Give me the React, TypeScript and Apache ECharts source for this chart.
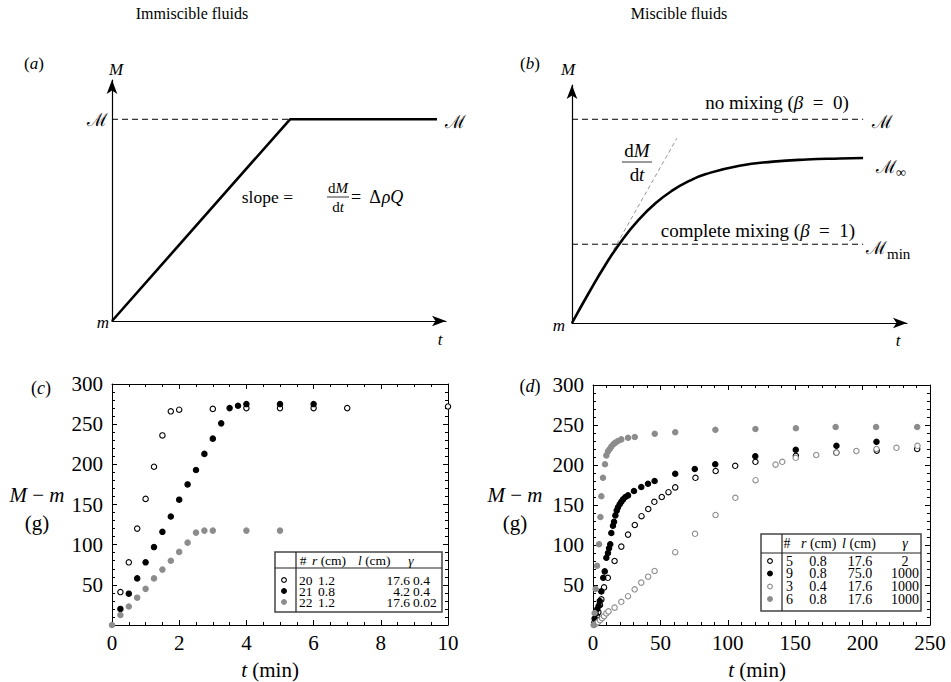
import React, { useEffect, useRef } from "react";
import * as echarts from "echarts";

const FONT = '"Liberation Serif", "DejaVu Serif", serif';
const GRAY = "#8c8c8c";

// ---------- Panel (a): schematic, immiscible ----------
const aLineX = [0, 53.3, 97.3];
const aLineY = [0, 83.7, 83.7];
const aPlateau = 83.7;

// ---------- Panel (b): schematic, miscible ----------
const bCurveX = [0, 5, 10, 15, 20, 25, 30, 35, 40, 50, 60, 70, 80, 86.9];
const bCurveY = [0, 12.6, 24.5, 34.9, 43.5, 50.4, 55.7, 59.7, 62.6, 66.1, 67.8, 68.7, 69.1, 69.3];
const bNoMixing = 85.6;
const bComplete = 33.1;
const bLineEnd = 86.9;
const bTangentX = [0, 31.3];
const bTangentY = [0, 77.6];

// ---------- Panel (c): immiscible experiments ----------
const c20T = [0.25, 0.5, 0.75, 1, 1.25, 1.5, 1.75, 2, 3, 4, 5, 6, 7, 10];
const c20M = [41, 78, 120, 157, 197, 236, 266, 268, 269, 270, 270, 270, 270, 272];
const c21T = [0.25, 0.5, 0.75, 1, 1.25, 1.5, 1.75, 2, 2.25, 2.5, 2.75, 3, 3.25, 3.5, 3.75, 4, 5, 6];
const c21M = [20, 39, 58, 78, 97, 116, 135, 156, 175, 193, 213, 232, 251, 270, 273, 275, 275, 275];
const c22T = [0, 0.25, 0.5, 0.75, 1, 1.25, 1.5, 1.75, 2, 2.25, 2.5, 2.75, 3, 4, 5];
const c22M = [0, 12.5, 23, 34, 45, 58, 69, 80, 91, 102.5, 115, 117.5, 117.5, 117.5, 117.5];
const cXTicks = [0, 10, 2];
const cYTicks = [0, 300, 50];

// ---------- Panel (d): miscible experiments ----------
const d5T = [1, 2, 3, 4, 5.2, 6.2, 8.2, 11, 16, 21, 26, 31, 36, 41, 45.5, 51, 56, 61, 76, 91, 105.5, 120.5, 150.5, 180.5, 210.5, 240.5];
const d5M = [3, 7, 12, 16, 25, 32, 47, 59, 80, 98, 113, 125, 136, 145, 154, 160, 166, 172, 184, 192.5, 199, 204, 211.5, 215.5, 218, 220];
const d9T = [1.2, 2, 3.2, 4.2, 5, 6.2, 7.6, 8.7, 9.9, 11.1, 11.9, 12.8, 13.6, 14.8, 15.6, 16.6, 17.6, 18.5, 19.8, 21, 22.3, 24, 26, 30.4, 35.8, 40.8, 45.7, 61, 75.5, 90.7, 120.4, 150.4, 180.6, 210.3];
const d9M = [8, 14, 20, 24, 30, 42, 59, 67, 84, 90, 96, 101, 115, 124, 129, 137, 143, 147, 151, 154, 157, 160, 162, 167.5, 172.5, 176.5, 180, 189, 195, 201, 211, 219, 224, 229];
const d3T = [0.7, 2.2, 3.7, 5.2, 6.7, 8.2, 9.9, 11.5, 16, 21, 26, 30.9, 35.8, 40.9, 45.7, 61, 75.7, 90.9, 105.6, 120.6, 135.4, 140.4, 150.4, 165.6, 180.6, 195.4, 210.3, 225.1, 240.7];
const d3M = [0, 1.5, 3.5, 6, 8.5, 11, 14.5, 17, 21.7, 29, 36, 44.6, 53, 60.4, 67.5, 91, 114, 137.5, 159, 181, 200.5, 204, 209, 212.5, 215.5, 217.5, 220, 221.5, 224];
const d6T = [0.5, 1.2, 2, 3, 4.5, 5.5, 6.2, 7.4, 8.9, 9.9, 11.1, 12.4, 13.6, 15.1, 16.6, 18.5, 21, 26, 31, 45.8, 61, 90.8, 120.5, 150.5, 180, 210, 240.5];
const d6M = [0, 15, 45, 74, 101, 135, 161, 184, 201, 212, 217, 220, 223, 226, 228, 230, 232, 234, 235, 239, 241, 244, 245, 246, 247.5, 247.5, 247.5];
const dXTicks = [0, 250, 50];
const dYTicks = [0, 300, 50];

// ---------- Legend tables ----------
const cLegendRows = [
  ["20", "1.2", "17.6", "0.4"],
  ["21", "0.8", "4.2", "0.4"],
  ["22", "1.2", "17.6", "0.02"],
];
const dLegendRows = [
  ["5", "0.8", "17.6", "2"],
  ["9", "0.8", "75.0", "1000"],
  ["3", "0.4", "17.6", "1000"],
  ["6", "0.8", "17.6", "1000"],
];

type Mk = { fill: string; stroke: string };
const OPEN_BLACK: Mk = { fill: "#fff", stroke: "#000" };
const FILL_BLACK: Mk = { fill: "#000", stroke: "#000" };
const OPEN_GRAY: Mk = { fill: "#fff", stroke: GRAY };
const FILL_GRAY: Mk = { fill: GRAY, stroke: GRAY };
const cMarkers = [OPEN_BLACK, FILL_BLACK, FILL_GRAY];
const dMarkers = [OPEN_BLACK, FILL_BLACK, OPEN_GRAY, FILL_GRAY];

const zip = (t: number[], m: number[]) => t.map((v, i) => [v, m[i]]);

const rich = (size: number, lh?: number) => ({
  i: { fontStyle: "italic", fontFamily: FONT, fontSize: size, fill: "#000", lineHeight: lh },
  n: { fontStyle: "normal", fontFamily: FONT, fontSize: size, fill: "#000", lineHeight: lh },
});

function wrapPlain(text: string) {
  const parts = text.split(/(\{i\|[^}]*\})/);
  return parts
    .filter((p) => p.length > 0)
    .map((p) => (p.startsWith("{i|") ? p : `{n|${p}}`))
    .join("");
}

function txt(x: number, y: number, text: string, size = 16, align = "center", lh?: number) {
  return {
    type: "text",
    x,
    y,
    silent: true,
    z: 100,
    style: {
      text: wrapPlain(text),
      font: `${size}px "Liberation Serif", serif`,
      fontFamily: FONT,
      fontSize: size,
      fill: "#000",
      align,
      verticalAlign: "middle",
      textAlign: align,
      textVerticalAlign: "middle",
      lineHeight: lh,
      rich: rich(size, lh),
    },
  };
}

function hline(x1: number, y1: number, x2: number, y2: number, w = 1, color = "#000") {
  return { type: "line", silent: true, z: 100, shape: { x1, y1, x2, y2 }, style: { stroke: color, lineWidth: w } };
}

function fraction(cx: number, y: number, num: string, den: string, size: number, halfW: number) {
  return [
    txt(cx, y - size * 0.6, num, size, "center", size),
    hline(cx - halfW, y, cx + halfW, y, 0.8),
    txt(cx, y + size * 0.65, den, size, "center", size),
  ];
}

function legendTable(
  box: { x: number; y: number; w: number; h: number; div: number; sep: number },
  header: { x: number; text: string; align: string }[],
  headerY: number,
  rows: string[][],
  rowYs: number[],
  cols: { x: number; align: string }[],
  markers: Mk[],
  markerX: number,
  size: number
) {
  const els: any[] = [];
  const lh = 10.5;
  els.push({
    type: "rect",
    silent: true,
    z: 90,
    shape: { x: box.x, y: box.y, width: box.w, height: box.h },
    style: { fill: "#fff", stroke: "#444", lineWidth: 1.5 },
  });
  els.push(hline(box.div, box.y, box.div, box.y + box.h, 1.2, "#222"));
  els.push(hline(box.x, box.sep, box.x + box.w, box.sep, 1.2, "#222"));
  header.forEach((h) => els.push(txt(h.x, headerY, h.text, size, h.align, lh)));
  rows.forEach((r, i) => {
    r.forEach((cell, j) => els.push(txt(cols[j].x, rowYs[i], cell, size, cols[j].align, lh)));
    els.push({
      type: "circle",
      silent: true,
      z: 100,
      shape: { cx: markerX, cy: rowYs[i], r: 2.4 },
      style: { fill: markers[i].fill, stroke: markers[i].stroke, lineWidth: 1.1 },
    });
  });
  return els;
}

const arrowAxis = (gridIndex: number) => ({
  gridIndex,
  type: "value",
  min: 0,
  max: 100,
  axisLine: {
    show: true,
    symbol: ["none", "arrow"],
    symbolSize: [8, 14],
    lineStyle: { color: "#000", width: 1.2 },
  },
  axisTick: { show: false },
  axisLabel: { show: false },
  splitLine: { show: false },
});

function frameAxis(gridIndex: number, ticks: number[], position: string, labels: boolean, minorSplit: number, isY: boolean) {
  return {
    gridIndex,
    type: "value",
    position,
    min: ticks[0],
    max: ticks[1],
    interval: ticks[2],
    axisLine: { show: true, onZero: false, lineStyle: { color: "#000", width: 1 } },
    axisTick: { show: true, inside: true, length: 5, lineStyle: { color: "#000", width: 1 } },
    minorTick: { show: true, splitNumber: minorSplit, length: 3, lineStyle: { color: "#000", width: 1 } },
    axisLabel: {
      show: labels,
      color: "#000",
      fontFamily: FONT,
      fontSize: 21,
      margin: isY ? 9 : 7,
      formatter: (v: number) => (isY && v === 0 ? "" : String(v)),
    },
    splitLine: { show: false },
    minorSplitLine: { show: false },
  };
}

function scatter(name: string, data: number[][], axis: number, mk: Mk) {
  return {
    name,
    type: "scatter",
    xAxisIndex: axis,
    yAxisIndex: axis,
    data,
    symbol: "circle",
    symbolSize: 5.4,
    clip: false,
    itemStyle: { color: mk.fill, borderColor: mk.stroke, borderWidth: 1.1, opacity: 1 },
    z: 5,
  };
}

function lineSeries(data: number[][], axis: number, width: number, type: any, color = "#000", smooth = false) {
  return {
    type: "line",
    xAxisIndex: axis,
    yAxisIndex: axis,
    data,
    smooth,
    showSymbol: false,
    symbol: "none",
    lineStyle: { color, width, type },
    z: 3,
  };
}

export default function App() {
  const ref = useRef<HTMLDivElement>(null);
  useEffect(() => {
    if (!ref.current) return;
    const chart = echarts.init(ref.current, undefined, { renderer: "svg" });

    const graphic: any[] = [
      txt(192, 13, "Immiscible fluids", 16),
      txt(679, 13, "Miscible fluids", 16),
      // panel a
      txt(34, 63, "({i|a})", 17),
      txt(116, 69, "{i|M}", 17),
      txt(103, 322, "{i|m}", 17),
      txt(440, 339, "{i|t}", 17),
      txt(97, 120, "ℳ", 18),
      txt(455, 122, "ℳ", 18),
      txt(293, 197, "slope =", 17.5, "right"),
      ...fraction(338, 197, "d{i|M}", "d{i|t}", 15, 11),
      txt(351, 197, "=  Δ{i|ρQ}", 18, "left"),
      // panel b
      txt(530, 63, "({i|b})", 17),
      txt(568, 69, "{i|M}", 17),
      txt(559, 325, "{i|m}", 17),
      txt(898, 340, "{i|t}", 17),
      txt(777, 102, "no mixing ({i|β}  =  0)", 19),
      txt(758, 230, "complete mixing ({i|β}  =  1)", 19),
      txt(882, 122, "ℳ", 18),
      txt(876, 167, "ℳ", 18, "left"),
      txt(896, 172, "∞", 14, "left"),
      txt(866, 248, "ℳ", 18, "left"),
      txt(887, 254, "min", 15, "left"),
      ...fraction(637, 162, "d{i|M}", "d{i|t}", 19, 15),
      // panel c
      txt(41, 388, "({i|c})", 18),
      txt(37, 495, "{i|M} − {i|m}", 21),
      txt(37, 523, "(g)", 21),
      txt(270, 670, "{i|t} (min)", 21),
      // panel d
      txt(530, 386, "({i|d})", 18),
      txt(515, 495, "{i|M} − {i|m}", 21),
      txt(515, 523, "(g)", 21),
      txt(757, 670, "{i|t} (min)", 21),
      ...legendTable(
        { x: 275, y: 552, w: 167, h: 60, div: 296, sep: 568 },
        [
          { x: 303, text: "#", align: "center" },
          { x: 312, text: "{i|r} (cm)", align: "left" },
          { x: 358, text: "{i|l} (cm)", align: "left" },
          { x: 411, text: "{i|γ}", align: "center" },
        ],
        560,
        cLegendRows,
        [580, 591, 602],
        [
          { x: 299, align: "left" },
          { x: 318, align: "left" },
          { x: 410, align: "right" },
          { x: 413, align: "left" },
        ],
        cMarkers,
        284,
        13.5
      ),
      ...legendTable(
        { x: 761, y: 534, w: 160, h: 77, div: 782, sep: 553 },
        [
          { x: 787, text: "#", align: "center" },
          { x: 801, text: "{i|r} (cm)", align: "left" },
          { x: 842, text: "{i|l} (cm)", align: "left" },
          { x: 905, text: "{i|γ}", align: "center" },
        ],
        543,
        dLegendRows,
        [561, 573.5, 586.5, 599],
        [
          { x: 786, align: "left" },
          { x: 818, align: "center" },
          { x: 860, align: "center" },
          { x: 905, align: "center" },
        ],
        dMarkers,
        770,
        14
      ),
    ];

    chart.setOption({
      animation: false,
      backgroundColor: "#fff",
      textStyle: { fontFamily: FONT },
      grid: [
        { left: 112, top: 80, width: 334, height: 241 },
        { left: 572, top: 85, width: 335, height: 238 },
        { left: 112, top: 384, width: 336, height: 241 },
        { left: 593, top: 385, width: 337, height: 240 },
      ],
      xAxis: [
        arrowAxis(0),
        arrowAxis(1),
        frameAxis(2, cXTicks, "bottom", true, 4, false),
        frameAxis(2, cXTicks, "top", false, 4, false),
        frameAxis(3, dXTicks, "bottom", true, 5, false),
        frameAxis(3, dXTicks, "top", false, 5, false),
      ],
      yAxis: [
        arrowAxis(0),
        arrowAxis(1),
        frameAxis(2, cYTicks, "left", true, 5, true),
        frameAxis(2, cYTicks, "right", false, 5, true),
        frameAxis(3, dYTicks, "left", true, 5, true),
        frameAxis(3, dYTicks, "right", false, 5, true),
      ],
      series: [
        lineSeries([[0, aPlateau], [aLineX[1], aPlateau]], 0, 1, [6, 4]),
        lineSeries(zip(aLineX, aLineY), 0, 2.6, "solid"),
        lineSeries([[0, bNoMixing], [bLineEnd, bNoMixing]], 1, 1, [6, 4]),
        lineSeries([[0, bComplete], [bLineEnd, bComplete]], 1, 1, [6, 4]),
        lineSeries(zip(bTangentX, bTangentY), 1, 0.7, [4, 3], "#666"),
        lineSeries(zip(bCurveX, bCurveY), 1, 2.6, "solid", "#000", true),
        scatter("20", zip(c20T, c20M), 2, OPEN_BLACK),
        scatter("21", zip(c21T, c21M), 2, FILL_BLACK),
        scatter("22", zip(c22T, c22M), 2, FILL_GRAY),
        scatter("5", zip(d5T, d5M), 4, OPEN_BLACK),
        scatter("9", zip(d9T, d9M), 4, FILL_BLACK),
        scatter("3", zip(d3T, d3M), 4, OPEN_GRAY),
        scatter("6", zip(d6T, d6M), 4, FILL_GRAY),
      ],
      graphic,
    });
    return () => chart.dispose();
  }, []);
  return <div ref={ref} style={{ position: "absolute", left: 0, top: 0, width: 951, height: 682 }} />;
}
